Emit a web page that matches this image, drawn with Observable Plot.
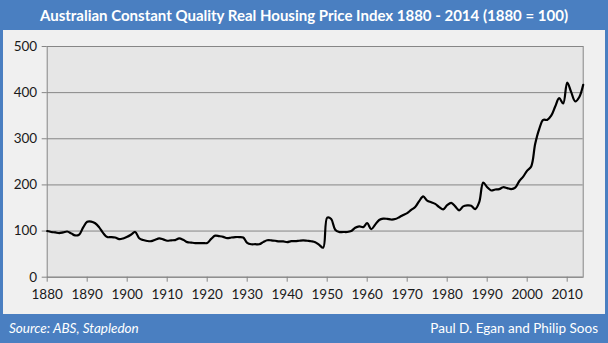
<!DOCTYPE html>
<html><head><meta charset="utf-8">
<script src="https://cdn.jsdelivr.net/npm/d3@7"></script>
<script src="https://cdn.jsdelivr.net/npm/@observablehq/plot@0.6"></script>
<style>
html,body{margin:0;padding:0;}
body{width:608px;height:343px;background:#4a7fc1;position:relative;overflow:hidden;font-family:Lato,"Open Sans",sans-serif;}
#title{position:absolute;left:0;top:0;width:608px;height:30px;line-height:30px;text-align:center;color:#fff;font-weight:bold;font-size:15px;}
#panel{position:absolute;left:3px;top:30px;width:602px;height:284px;background:#f0f0f0;}
#chart{position:absolute;left:0;top:30px;}
#src{position:absolute;left:9px;top:314px;height:29px;line-height:29px;color:#fff;font-style:italic;font-size:13.5px;}
#auth{position:absolute;right:10px;top:314px;height:29px;line-height:29px;color:#fff;font-size:13.5px;}
</style></head><body>
<div id="title">Australian Constant Quality Real Housing Price Index 1880 - 2014 (1880 = 100)</div>
<div id="panel"></div>
<div id="chart"></div>
<div id="src">Source: ABS, Stapledon</div>
<div id="auth">Paul D. Egan and Philip Soos</div>
<script>
const years = d3.range(1880, 2015);
const values = [
 100, 98, 97, 95.5, 97, 99, 95, 90.5, 92.5, 108,
 120, 120.5, 117, 108, 95.5, 87, 87, 86, 82.5, 84,
 87.5, 92.5, 98, 84.5, 80.5, 78.5, 78, 81, 84, 82,
 79, 80, 80.5, 84, 81, 76, 75, 74, 74, 74,
 74, 83, 90, 89, 87.5, 84.5, 86, 87, 87, 86,
 74.5, 71.5, 71.5, 71.5, 76, 80, 80, 79, 77.5, 77.5,
 76, 78, 78, 79, 80, 79, 78, 76, 70, 64,
 129, 126, 103, 98, 98, 98, 100, 107, 110, 108.5,
 117, 104, 114, 124, 127, 126.5, 125, 126, 130, 135,
 139, 146, 152, 165, 175, 166, 162.5, 159, 152, 147,
 156, 161, 153.5, 145, 153.5, 155.5, 155, 147.5, 162.5, 205,
 195, 188, 190, 191, 195, 193, 191, 194, 208, 218,
 231, 240, 289, 321, 341, 341, 350, 370, 388, 376.5,
 422, 401, 381, 390, 417
];
const yTicks = [0, 100, 200, 300, 400, 500];
const xTicks = d3.range(1880, 2011, 10);
const data = years.map((y, i) => ({year: y, value: values[i]}));

const chart = Plot.plot({
  width: 608, height: 285,
  marginTop: 16, marginBottom: 38.3, marginLeft: 46.7, marginRight: 25.3,
  style: {background: "transparent", fontFamily: "Lato, 'Open Sans', sans-serif", fontSize: "13.5px", color: "#1a1a1a"},
  x: {domain: [1880, 2014]},
  y: {domain: [0, 500]},
  marks: [
    Plot.frame({fill: "#e6e6e6"}),
    Plot.ruleY(yTicks, {stroke: "#868686", strokeWidth: 1}),
    Plot.frame({stroke: "#868686", strokeWidth: 1}),
    Plot.axisX({ticks: xTicks, tickSize: 5, tickPadding: 7, tickFormat: d => String(d), label: null, stroke: "#868686", strokeOpacity: 1}),
    Plot.axisY({ticks: yTicks, tickSize: 5, tickPadding: 5, label: null, stroke: "#868686", strokeOpacity: 1}),
    Plot.lineY(data, {x: "year", y: "value", stroke: "#000", strokeWidth: 2.2, curve: "catmull-rom"})
  ]
});
document.getElementById("chart").appendChild(chart);
</script>
</body></html>
